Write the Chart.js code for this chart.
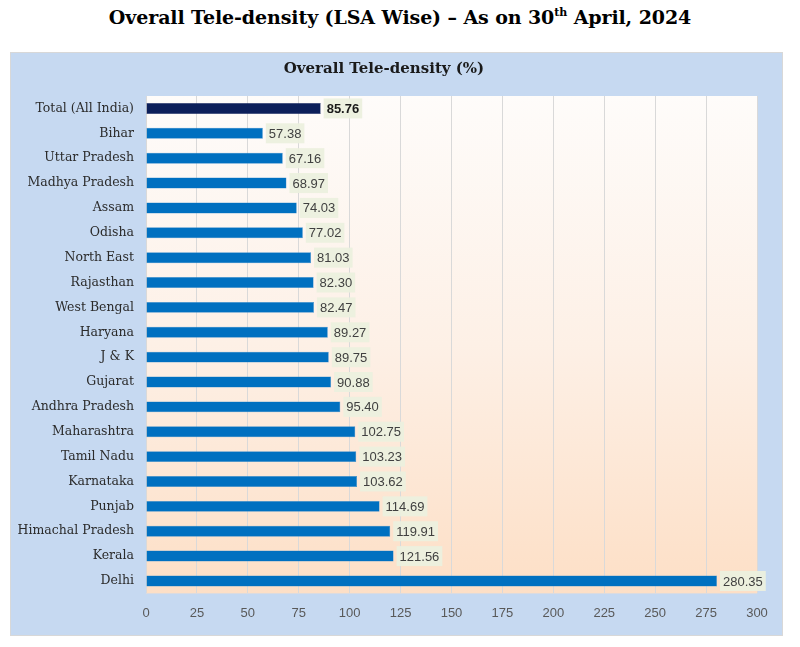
<!DOCTYPE html>
<html>
<head>
<meta charset="utf-8">
<script src="https://cdn.jsdelivr.net/npm/chart.js@4.4.1/dist/chart.umd.min.js"></script>
<style>
  html, body { margin: 0; padding: 0; background: #ffffff; width: 800px; height: 647px; overflow: hidden; }
  #title { position: absolute; left: 0; top: 6px; width: 800px; text-align: center;
    font-family: "DejaVu Serif", serif; font-weight: bold; font-size: 19px; color: #000; letter-spacing: -0.1px; }
  #title sup { font-size: 11px; vertical-align: 8px; line-height: 0; }
  #box { position: absolute; left: 10px; top: 52px; width: 771px; height: 582px; background: #c6d9f1;
    border: 1px solid #d8d8d8; }
  #box canvas { display: block; }
</style>
</head>
<body>
<div id="title">Overall Tele-density (LSA Wise) – As on 30<sup>th</sup> April, 2024</div>
<div id="box"><canvas id="c" width="771" height="582"></canvas></div>
<script>
const chartTitle = "Overall Tele-density (%)";
const categories = ["Total (All India)", "Bihar", "Uttar Pradesh", "Madhya Pradesh", "Assam", "Odisha",
  "North East", "Rajasthan", "West Bengal", "Haryana", "J & K", "Gujarat", "Andhra Pradesh",
  "Maharashtra", "Tamil Nadu", "Karnataka", "Punjab", "Himachal Pradesh", "Kerala", "Delhi"];
const teleDensity = [85.76, 57.38, 67.16, 68.97, 74.03, 77.02, 81.03, 82.30, 82.47, 89.27, 89.75,
  90.88, 95.40, 102.75, 103.23, 103.62, 114.69, 119.91, 121.56, 280.35];
const xTicks = [0, 25, 50, 75, 100, 125, 150, 175, 200, 225, 250, 275, 300];

const barColors = categories.map((c, i) => i === 0 ? "#0c1f5a" : "#0070c0");

const bgPlugin = {
  id: "plotBg",
  beforeDraw(chart) {
    const { ctx, chartArea: a } = chart;
    const g = ctx.createLinearGradient(0, a.top, 0, a.bottom);
    g.addColorStop(0, "#fefcfa");
    g.addColorStop(0.5, "#fdf0e6");
    g.addColorStop(1, "#fddfc6");
    ctx.save();
    ctx.fillStyle = g;
    ctx.fillRect(a.left, a.top, a.right - a.left, a.bottom - a.top);
    ctx.restore();
  }
};

const labelPlugin = {
  id: "valLabels",
  afterDatasetsDraw(chart) {
    const { ctx } = chart;
    const meta = chart.getDatasetMeta(0);
    ctx.save();
    meta.data.forEach((bar, i) => {
      const txt = teleDensity[i].toFixed(2);
      ctx.font = (i === 0 ? "bold " : "") + "13px 'Liberation Sans Narrow', 'Liberation Sans', sans-serif";
      const w = ctx.measureText(txt).width;
      const x = bar.x + 3;
      const y = bar.y;
      ctx.fillStyle = "rgba(236,240,222,0.95)";
      ctx.fillRect(x, y - 10, w + 6, 20);
      ctx.fillStyle = i === 0 ? "#1a1a1a" : "#404040";
      ctx.textBaseline = "middle";
      ctx.textAlign = "left";
      ctx.fillText(txt, x + 3, y + 1);
    });
    ctx.restore();
  }
};

new Chart(document.getElementById("c"), {
  type: "bar",
  data: {
    labels: categories,
    datasets: [{
      data: teleDensity,
      backgroundColor: barColors,
      borderColor: barColors.map(c => c === "#0070c0" ? "#3d8fd0" : "#0c1f5a"),
      borderWidth: 0.5,
      barPercentage: 0.44,
      categoryPercentage: 1.0
    }]
  },
  options: {
    indexAxis: "y",
    responsive: false,
    animation: false,
    devicePixelRatio: 1,
    layout: { padding: { left: 0, right: 25, top: 0, bottom: 2 } },
    plugins: {
      legend: { display: false },
      tooltip: { enabled: false },
      title: {
        display: true,
        text: chartTitle,
        color: "#1a1a1a",
        font: { family: "'DejaVu Serif', serif", weight: "bold", size: 15 },
        padding: { top: 7, bottom: 18 }
      }
    },
    scales: {
      x: {
        min: 0, max: 300,
        afterBuildTicks(scale) { scale.ticks = xTicks.map(v => ({ value: v })); },
        grid: { color: "#d9d9d9", lineWidth: 1, drawTicks: false },
        border: { display: false },
        ticks: {
          color: "#595959",
          padding: 12,
          font: { family: "'Liberation Sans Narrow', 'Liberation Sans', sans-serif", size: 13 }
        }
      },
      y: {
        grid: { display: false, drawTicks: false },
        border: { display: false },
        afterFit(scale) { scale.width = 135; },
        ticks: {
          color: "#2b2b2b",
          padding: 12,
          font: { family: "'DejaVu Serif', serif", size: 12.5 }
        }
      }
    }
  },
  plugins: [bgPlugin, labelPlugin]
});
</script>
</body>
</html>
